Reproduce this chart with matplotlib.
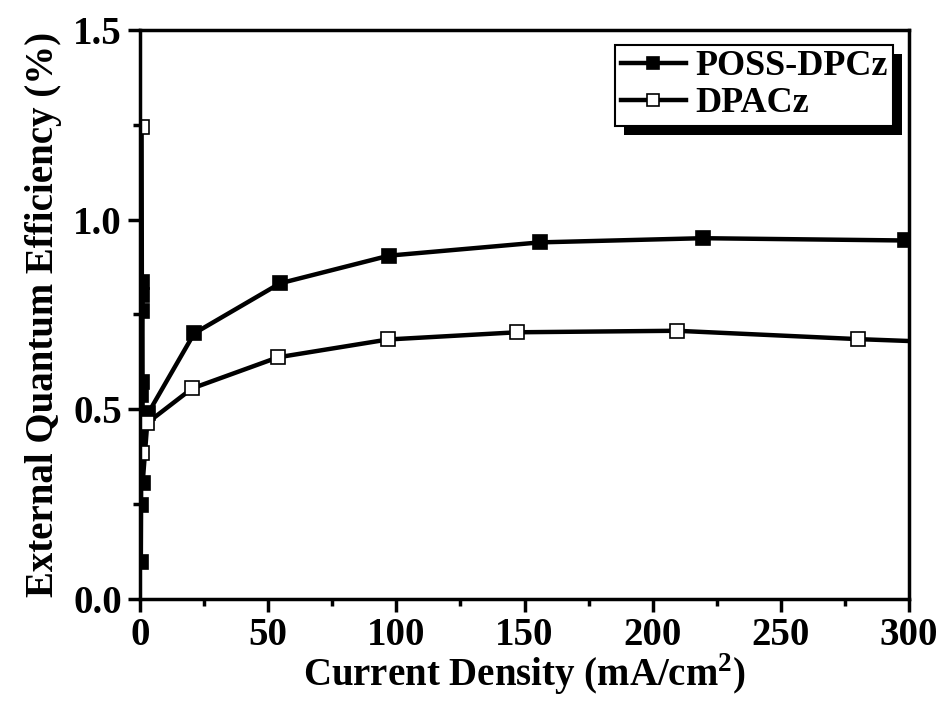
import matplotlib
matplotlib.use('Agg')
import matplotlib.pyplot as plt
from matplotlib.ticker import MultipleLocator
from matplotlib.patches import Rectangle

# datos
poss_x = [0.3, 0.4, 0.5, 0.6, 0.7, 0.8, 0.9, 1.0, 3.1, 21.1, 54.6, 97.1, 156, 219.5, 298.4]
poss_y = [0.098, 0.247, 0.537, 0.572, 0.76, 0.80, 0.835, 0.305, 0.489,
          0.70, 0.832, 0.905, 0.94, 0.951, 0.945]

dpacz_x = [0.6, 0.8, 2.6, 20.3, 53.8, 96.7, 147, 209.4, 280, 350]
dpacz_y = [1.245, 0.385, 0.463, 0.555, 0.637, 0.684, 0.703, 0.707, 0.685, 0.6675]

plt.rcParams['font.family'] = ['Liberation Serif', 'DejaVu Serif']
plt.rcParams['font.weight'] = 'bold'
plt.rcParams['mathtext.fontset'] = 'custom'
plt.rcParams['mathtext.rm'] = 'Liberation Serif:bold'
plt.rcParams['mathtext.bf'] = 'Liberation Serif:bold'

fig = plt.figure(figsize=(9.4, 7.06), dpi=100)
ax = fig.add_axes([0.149, 0.1516, 0.818, 0.806])

ax.plot(poss_x, poss_y, color='black', lw=3.2, marker='s', ms=10.5,
        mfc='black', mec='black', mew=1.2, label='POSS-DPCz')
ax.plot(dpacz_x, dpacz_y, color='black', lw=3.2, marker='s', ms=10.5,
        mfc='white', mec='black', mew=1.2, label='DPACz')

ax.set_xlim(0, 300)
ax.set_ylim(0, 1.5)
ax.xaxis.set_major_locator(MultipleLocator(50))
ax.xaxis.set_minor_locator(MultipleLocator(25))
ax.yaxis.set_major_locator(MultipleLocator(0.5))
ax.yaxis.set_minor_locator(MultipleLocator(0.25))
ax.yaxis.set_major_formatter(matplotlib.ticker.FormatStrFormatter('%.1f'))

for s in ax.spines.values():
    s.set_linewidth(2.5)
ax.tick_params(which='major', direction='out', length=9, width=2.5,
               labelsize=28, pad=4)
ax.tick_params(which='minor', direction='out', length=5, width=2.5)

ax.set_xlabel('Current Density (mA/cm$^{\\mathbf{2}}$)', fontsize=28,
              fontweight='bold', labelpad=-2)
ax.set_ylabel('External Quantum Efficiency (%)', fontsize=28,
              fontweight='bold', labelpad=8)

leg = ax.legend(loc='upper right', fontsize=26, frameon=True,
                fancybox=False, framealpha=1, handlelength=1.8,
                borderpad=0.15, labelspacing=0.1, handletextpad=0.25,
                borderaxespad=0, bbox_to_anchor=(0.979, 0.974),
                markerscale=0.8)
leg.get_frame().set_edgecolor('black')
leg.get_frame().set_linewidth(1.5)
leg.set_zorder(5)
for t in leg.get_texts():
    t.set_fontweight('bold')

# sombra negra del cuadro de leyenda
fig.canvas.draw()
bb = leg.get_window_extent()
sombra = Rectangle((bb.x0 + 9, bb.y0 - 9), bb.width, bb.height,
                   transform=None, facecolor='black', edgecolor='none',
                   zorder=4, clip_on=False)
ax.add_artist(sombra)

fig.savefig('out.png', dpi=100)
